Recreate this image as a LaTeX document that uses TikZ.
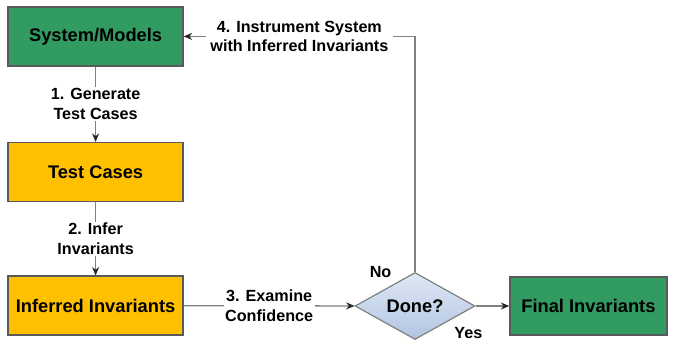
\documentclass[tikz,border=0pt]{standalone}
\usepackage{fontspec}
\setmainfont{Liberation Sans}
\usepackage{xcolor}
\usepackage{tikz}
\usetikzlibrary{arrows.meta,positioning,shapes.geometric,calc}
\definecolor{boxgreen}{RGB}{49,155,98}
\definecolor{boxyellow}{RGB}{255,192,0}
\definecolor{linegray}{RGB}{128,128,128}
\definecolor{edgegray}{RGB}{90,90,90}
\definecolor{diamtop}{RGB}{222,232,245}
\definecolor{diambottom}{RGB}{178,197,225}

\begin{document}
\begin{tikzpicture}[
    box/.style={rectangle, draw=edgegray, line width=0.9pt, minimum width=4.375cm, minimum height=1.475cm, font=\fontsize{13}{15}\selectfont\bfseries},
    decision/.style={diamond, draw=edgegray!80, line width=0.8pt, inner sep=0pt, aspect=1.8, minimum width=3cm, minimum height=1.675cm, top color=diamtop, bottom color=diambottom, font=\fontsize{13}{15}\selectfont\bfseries},
    lbl/.style={fill=white, align=center, inner sep=1pt, font=\fontsize{11.5}{14}\selectfont\bfseries},
    flow/.style={draw=linegray, line width=0.9pt, -{Stealth[length=6pt,width=5pt,color=black!85]}},
    >=Stealth
]
    \useasboundingbox (0,0) rectangle (16.9,-8.525);

    % left column
    \node[box, fill=boxgreen] (sys) at (2.39,-0.91) {System/Models};
    \node[box, fill=boxyellow] (tests) at (2.39,-4.3) {Test Cases};
    \node[box, fill=boxyellow] (inferred) at (2.39,-7.64) {Inferred Invariants};

    % decision and result
    \node[decision] (done) at (10.375,-7.65) {Done?};
    \node[box, fill=boxgreen, minimum width=3.925cm, minimum height=1.45cm] (final) at (14.71,-7.65) {Final Invariants};

    % branch labels
    \node[lbl, fill=none, left=0.55cm of done.north] (no) {No};
    \node[lbl, fill=none] (yes) at ($(done.east)+(-0.18,-0.68)$) {Yes};

    % Arrows
    \draw[flow] (sys) -- node[lbl] {1. Generate\\Test Cases} (tests);
    \draw[flow] (tests) -- node[lbl] {2. Infer\\Invariants} (inferred);
    \draw[flow] (inferred) -- node[lbl] {3. Examine\\Confidence} (done);
    \draw[flow] (done) -- (final);
    \draw[flow] (done.north) |- node[lbl, pos=0.75, inner sep=3pt] {4. Instrument System\\with Inferred Invariants} (sys.east);
\end{tikzpicture}
\end{document}
